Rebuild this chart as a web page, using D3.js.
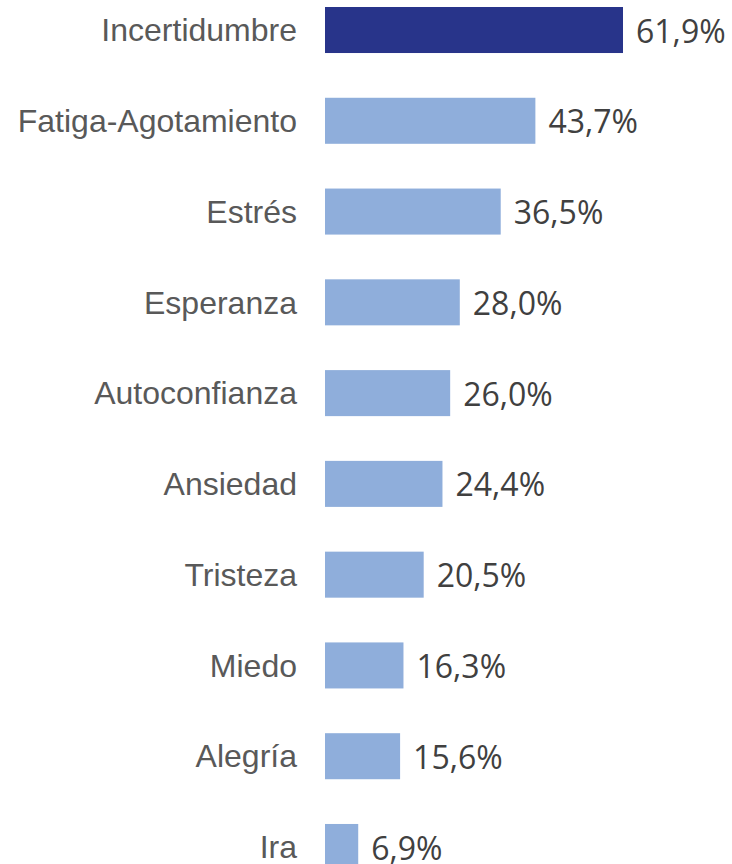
<!DOCTYPE html>
<meta charset="utf-8">
<html>
<head>
  <style>
    body { margin: 0; background: #fff; }
    svg { display: block; }
    .label { font-family: "Liberation Sans", Arial, sans-serif; fill: #595959; }
    .value { font-family: "Open Sans", sans-serif; fill: #404040; }
  </style>
</head>
<body>
<svg width="732" height="864"></svg>
<script src="https://d3js.org/d3.v7.min.js"></script>
<script>
  const categories = ["Incertidumbre", "Fatiga-Agotamiento", "Estrés", "Esperanza", "Autoconfianza",
                      "Ansiedad", "Tristeza", "Miedo", "Alegría", "Ira"];
  const values = [61.9, 43.7, 36.5, 28.0, 26.0, 24.4, 20.5, 16.3, 15.6, 6.9];

  const data = categories.map((c, i) => ({ cat: c, val: values[i] }));

  const svg = d3.select("svg");

  const x = d3.scaleLinear()
    .domain([0, d3.max(values)])
    .range([325, 623]);

  const y = d3.scaleBand()
    .domain(categories)
    .range([7, 870])
    .paddingInner(0.493)
    .paddingOuter(0);

  const fmt = v => v.toFixed(1).replace(".", ",") + "%";

  const row = svg.selectAll("g.row")
    .data(data)
    .enter().append("g")
    .attr("class", "row");

  row.append("rect")
    .attr("x", x(0))
    .attr("y", d => y(d.cat))
    .attr("width", d => x(d.val) - x(0))
    .attr("height", y.bandwidth())
    .attr("fill", (d, i) => i === 0 ? "#28348a" : "#8faedb");

  row.append("text")
    .attr("class", "label")
    .attr("x", 297)
    .attr("y", d => y(d.cat) + y.bandwidth() / 2)
    .attr("dy", "0.35em")
    .attr("text-anchor", "end")
    .style("font-size", "32px")
    .text(d => d.cat);

  row.append("text")
    .attr("class", "value")
    .attr("x", d => x(d.val) + 13)
    .attr("y", d => y(d.cat) + y.bandwidth() / 2 + 1)
    .attr("dy", "0.36em")
    .style("font-size", "32px")
    .text(d => fmt(d.val));
</script>
</body>
</html>
